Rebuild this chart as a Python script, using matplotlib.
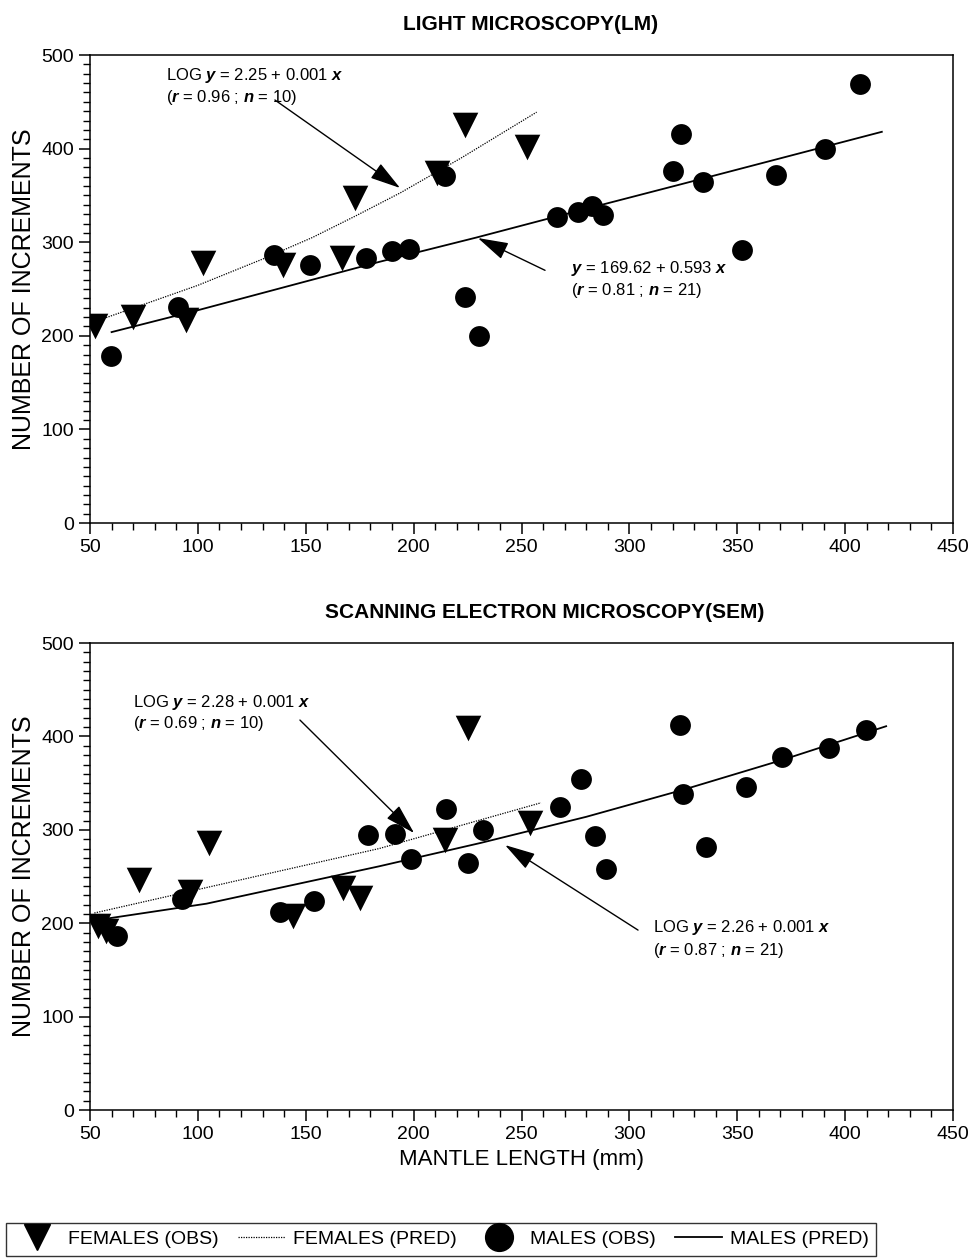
import numpy as np
import matplotlib
matplotlib.use('Agg')
import matplotlib.pyplot as plt
from matplotlib.lines import Line2D
from matplotlib.ticker import MultipleLocator

plt.rcParams['font.family'] = ['Liberation Sans', 'DejaVu Sans']
plt.rcParams['mathtext.fontset'] = 'custom'
plt.rcParams['mathtext.bf'] = 'Liberation Sans:bold:italic'
plt.rcParams['mathtext.rm'] = 'Liberation Sans'

# --- LM panel data ---
lm_fem_x = [52.3, 70.0, 94.5, 102.4, 139.5, 167.0, 172.8, 210.8, 223.8, 252.5]
lm_fem_y = [211, 220, 217, 278, 276, 283, 347, 374, 425, 402]
lm_mal_x = [59.7, 90.8, 135.3, 152.0, 178.0, 190.0, 197.9, 214.5, 223.8, 230.3, 266.5,
            276.2, 282.7, 287.8, 320.2, 324.0, 334.0, 352.2, 368.0, 390.7, 406.9]
lm_mal_y = [178, 231, 286, 276, 283, 291, 293, 371, 241, 200, 327,
            332, 339, 329, 376, 416, 364, 292, 372, 400, 469]
lm_fem_pred_x = [52, 100, 130, 153, 173, 194, 222, 257]
lm_fem_pred_y = [215, 254, 282, 305, 328, 353, 390, 439]
lm_mal_pred_x = [60, 101, 184, 229, 262, 324, 417]
lm_mal_pred_y = [204, 228, 279, 305, 325, 362, 418]

# --- SEM panel data ---
sem_fem_x = [53.7, 57.4, 72.9, 96.3, 105.3, 144.2, 167.4, 175.1, 214.5, 225.3, 253.9]
sem_fem_y = [197, 192, 246, 233, 286, 208, 238, 227, 289, 409, 307]
sem_mal_x = [62.4, 92.5, 138.1, 154.0, 179.0, 191.4, 198.6, 214.9, 225.4, 232.3, 267.8,
             277.6, 284.0, 289.0, 323.5, 325.0, 335.5, 353.9, 370.6, 392.7, 409.5]
sem_mal_y = [186, 226, 212, 224, 294, 296, 269, 322, 265, 300, 324,
             354, 293, 258, 412, 338, 282, 346, 378, 388, 407]
sem_fem_pred_x = [52, 115, 184, 259]
sem_fem_pred_y = [211, 244, 280, 329]
sem_mal_pred_x = [52, 104, 144, 184, 231, 280, 325, 371, 419]
sem_mal_pred_y = [203, 221, 241, 261, 286, 314, 343, 375, 411]

fig = plt.figure(figsize=(9.7, 12.6), dpi=100)
ax1 = fig.add_axes([0.0928, 0.5849, 0.8897, 0.3714])
ax2 = fig.add_axes([0.0928, 0.1190, 0.8897, 0.3706])


def draw_panel(ax, fx, fy, mx, my, fpx, fpy, mpx, mpy):
    ax.plot(fpx, fpy, color='black', lw=0.9, ls=(0, (1, 1)))
    ax.plot(mpx, mpy, color='black', lw=1.3)
    ax.scatter(fx, fy, marker='v', s=340, color='black', zorder=3, linewidths=0)
    ax.scatter(mx, my, marker='o', s=225, color='black', zorder=3, linewidths=0)
    ax.set_xlim(50, 450)
    ax.set_ylim(0, 500)
    ax.xaxis.set_major_locator(MultipleLocator(50))
    ax.xaxis.set_minor_locator(MultipleLocator(10))
    ax.yaxis.set_major_locator(MultipleLocator(100))
    ax.yaxis.set_minor_locator(MultipleLocator(10))
    ax.tick_params(which='major', direction='out', length=8, width=1.1, labelsize=14)
    ax.tick_params(which='minor', direction='out', length=5, width=1.0)
    for sp in ax.spines.values():
        sp.set_linewidth(1.1)
    ax.set_ylabel('NUMBER OF INCREMENTS', fontsize=18, labelpad=4)


draw_panel(ax1, lm_fem_x, lm_fem_y, lm_mal_x, lm_mal_y,
           lm_fem_pred_x, lm_fem_pred_y, lm_mal_pred_x, lm_mal_pred_y)
draw_panel(ax2, sem_fem_x, sem_fem_y, sem_mal_x, sem_mal_y,
           sem_fem_pred_x, sem_fem_pred_y, sem_mal_pred_x, sem_mal_pred_y)
ax2.set_xlabel('MANTLE LENGTH (mm)', fontsize=16, labelpad=4)

ax1.set_title('LIGHT MICROSCOPY(LM)', fontsize=15, fontweight='bold', x=0.51, pad=18)
ax2.set_title('SCANNING ELECTRON MICROSCOPY(SEM)', fontsize=15, fontweight='bold', x=0.527, pad=18)

arrow = dict(arrowstyle='-|>,head_length=1.9,head_width=0.55', mutation_scale=10,
             lw=1.0, color='black', shrinkA=0, shrinkB=0)
tsize = 12

# LM annotations
ax1.annotate('', xy=(193.7, 358), xytext=(135.7, 452), arrowprops=arrow)
ax1.text(85, 478, r'LOG $\mathbf{y}$ = 2.25 + 0.001 $\mathbf{x}$', fontsize=tsize, va='center')
ax1.text(85, 455, r'($\mathbf{r}$ = 0.96 ; $\mathbf{n}$ = 10)', fontsize=tsize, va='center')
ax1.annotate('', xy=(229.8, 304.5), xytext=(260.9, 270), arrowprops=arrow)
ax1.text(273, 272, r'$\mathbf{y}$ = 169.62 + 0.593 $\mathbf{x}$', fontsize=tsize, va='center')
ax1.text(273, 248, r'($\mathbf{r}$ = 0.81 ; $\mathbf{n}$ = 21)', fontsize=tsize, va='center')

# SEM annotations
ax2.annotate('', xy=(200.2, 296.6), xytext=(147.3, 417.6), arrowprops=arrow)
ax2.text(70, 436, r'LOG $\mathbf{y}$ = 2.28 + 0.001 $\mathbf{x}$', fontsize=tsize, va='center')
ax2.text(70, 414, r'($\mathbf{r}$ = 0.69 ; $\mathbf{n}$ = 10)', fontsize=tsize, va='center')
ax2.annotate('', xy=(242.4, 283.7), xytext=(304.0, 192.7), arrowprops=arrow)
ax2.text(311, 195, r'LOG $\mathbf{y}$ = 2.26 + 0.001 $\mathbf{x}$', fontsize=tsize, va='center')
ax2.text(311, 171, r'($\mathbf{r}$ = 0.87 ; $\mathbf{n}$ = 21)', fontsize=tsize, va='center')

handles = [
    Line2D([], [], marker='v', color='black', ls='none', markersize=19),
    Line2D([], [], color='black', lw=0.9, ls=(0, (1, 1))),
    Line2D([], [], marker='o', color='black', ls='none', markersize=20),
    Line2D([], [], color='black', lw=1.3),
]
labels = ['FEMALES (OBS)', 'FEMALES (PRED)', 'MALES (OBS)', 'MALES (PRED)']
leg = fig.legend(handles, labels, loc='center left', bbox_to_anchor=(0.006, 0.0165),
                 ncol=4, frameon=True, fancybox=False, edgecolor='black', fontsize=14,
                 handlelength=2.4, columnspacing=1.0, handletextpad=0.4,
                 borderpad=0.4, borderaxespad=0)
leg.get_frame().set_linewidth(1.0)

fig.savefig('out.png', dpi=100, facecolor='white')
